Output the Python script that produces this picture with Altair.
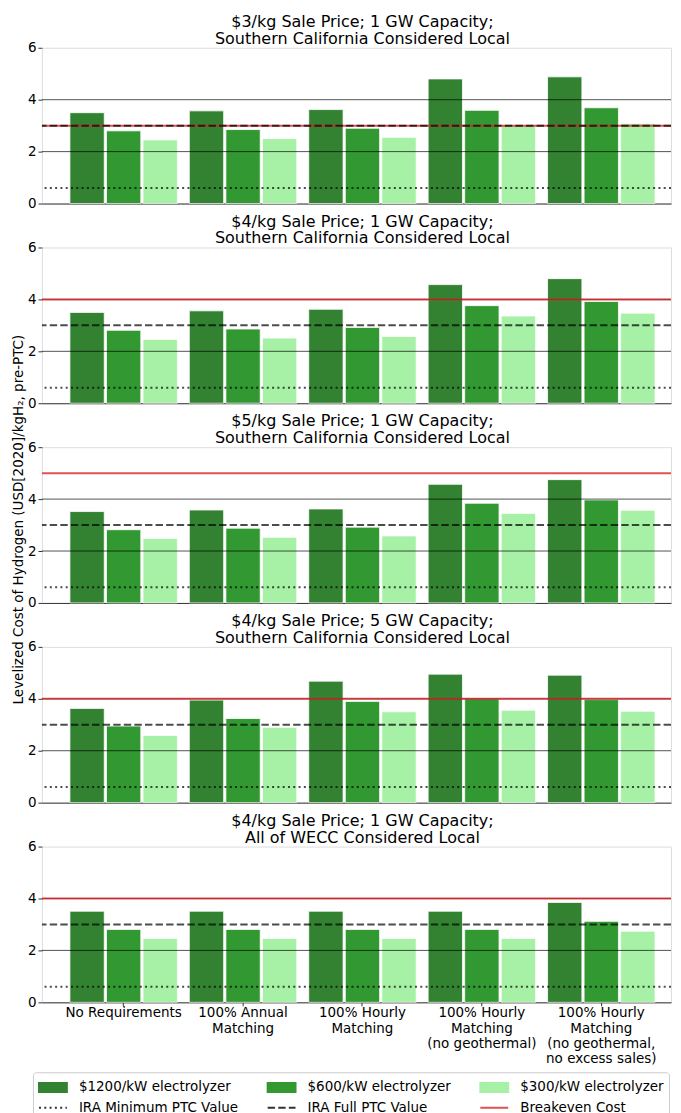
import altair as alt
import pandas as pd

# ---------------- data ----------------
categories = [
    "No Requirements",
    "100% Annual|Matching",
    "100% Hourly|Matching",
    "100% Hourly|Matching|(no geothermal)",
    "100% Hourly|Matching|(no geothermal,|no excess sales)",
]
series = ["$1200/kW electrolyzer", "$600/kW electrolyzer", "$300/kW electrolyzer"]
line_keys = ["IRA Minimum PTC Value", "IRA Full PTC Value", "Breakeven Cost"]

panel_titles = [
    ["$3/kg Sale Price; 1 GW Capacity;", "Southern California Considered Local"],
    ["$4/kg Sale Price; 1 GW Capacity;", "Southern California Considered Local"],
    ["$5/kg Sale Price; 1 GW Capacity;", "Southern California Considered Local"],
    ["$4/kg Sale Price; 5 GW Capacity;", "Southern California Considered Local"],
    ["$4/kg Sale Price; 1 GW Capacity;", "All of WECC Considered Local"],
]

cost_1200 = [
    [3.50, 3.57, 3.62, 4.80, 4.88],
    [3.50, 3.56, 3.62, 4.57, 4.80],
    [3.52, 3.58, 3.62, 4.57, 4.75],
    [3.63, 3.95, 4.68, 4.95, 4.91],
    [3.51, 3.51, 3.51, 3.51, 3.85],
]
cost_600 = [
    [2.80, 2.85, 2.90, 3.59, 3.69],
    [2.81, 2.86, 2.92, 3.76, 3.92],
    [2.82, 2.88, 2.92, 3.84, 3.97],
    [2.95, 3.24, 3.90, 4.00, 3.97],
    [2.81, 2.81, 2.81, 2.81, 3.12],
]
cost_300 = [
    [2.45, 2.50, 2.55, 3.00, 3.08],
    [2.46, 2.51, 2.57, 3.36, 3.47],
    [2.48, 2.53, 2.58, 3.45, 3.57],
    [2.59, 2.90, 3.50, 3.56, 3.52],
    [2.46, 2.46, 2.46, 2.46, 2.74],
]
breakeven = [3, 4, 5, 4, 4]
ptc_min = 0.6
ptc_full = 3.0
y_ticks = [0, 2, 4, 6]

y_title = "Levelized Cost of Hydrogen (USD[2020]/kgH\u2082, pre-PTC)"

# ---------------- styling ----------------
FONT = "DejaVu Sans"
FS = 13.5
TFS = 16
bar_colors = ["darkgreen", "green", "lightgreen"]
line_colors = ["black", "black", "#d62728"]
all_keys = series + line_keys

color_scale = alt.Scale(domain=all_keys, range=bar_colors + line_colors)

bar_list = "[" + ",".join("'" + s + "'" for s in series) + "]"
legend = alt.Legend(
    orient="none",
    legendX=-9,
    legendY=1026,
    columns=3,
    direction="horizontal",
    title=None,
    labelFontSize=FS,
    labelFont=FONT,
    labelColor="black",
    labelLimit=260,
    labelOffset=16,
    symbolSize=324,
    symbolOffset=5,
    symbolStrokeWidth=2,
    symbolType={"expr": f"indexof({bar_list}, datum.value) >= 0 ? 'M-1.55,-0.5H1.55V0.5H-1.55Z' : 'M-1.55,0H1.55'"},
    symbolDash={"expr": f"datum.value == '{line_keys[0]}' ? [2, 3.3] : datum.value == '{line_keys[1]}' ? [7.4, 3.2] : [1, 0]"},
    symbolStrokeColor={"expr": f"indexof({bar_list}, datum.value) >= 0 ? 'transparent' : scale('color', datum.value)"},
    symbolFillColor={"expr": f"indexof({bar_list}, datum.value) >= 0 ? scale('color', datum.value) : 'transparent'"},
    columnPadding=25,
    rowPadding=1.5,
    padding=5,
    strokeColor="#cccccc",
    cornerRadius=3,
    fillColor="white",
)


def make_panel(i):
    rows = []
    for vals, key in zip([cost_1200[i], cost_600[i], cost_300[i]], series):
        for cat, v in zip(categories, vals):
            rows.append({"scenario": cat, "key": key, "cost": v})
    bars_df = pd.DataFrame(rows)

    last = i == len(panel_titles) - 1
    if last:
        x_axis = alt.Axis(
            title=None, labelExpr="split(datum.label, '|')", labelAngle=0,
            tickSize=3.5, tickColor="#333", domainColor="#333", labelPadding=0,
            labelFontSize=FS, labelFont=FONT, labelColor="black",
            labelLineHeight=15.3, labelLimit=300, labelBaseline="top",
        )
    else:
        x_axis = alt.Axis(title=None, labels=False, ticks=False, domainColor="#333")

    y_axis = alt.Axis(
        values=y_ticks, tickSize=4, tickColor="#333", domain=False, grid=False,
        labelPadding=2, labelFontSize=FS, labelFont=FONT, labelColor="black",
        title=None,
    )

    bars = alt.Chart(bars_df).mark_bar(opacity=0.8, stroke="white", strokeWidth=0.8).encode(
        x=alt.X("scenario:N", sort=categories, axis=x_axis,
                scale=alt.Scale(domain=categories, paddingInner=0.1, paddingOuter=0.184, align=0.636)),
        xOffset=alt.XOffset("key:N", sort=series,
                            scale=alt.Scale(domain=series, paddingInner=0.06)),
        y=alt.Y("cost:Q", axis=y_axis, scale=alt.Scale(domain=[y_ticks[0], y_ticks[-1]], nice=False)),
        color=alt.Color("key:N", scale=color_scale, legend=legend),
    )

    grid = alt.Chart(pd.DataFrame({"tick": y_ticks})).transform_filter(
        f"datum.tick > {y_ticks[0]} && datum.tick < {y_ticks[-1]}"
    ).mark_rule(color="black", strokeWidth=0.8, opacity=0.85).encode(y="tick:Q")

    lines_df = pd.DataFrame({"key": line_keys, "value": [ptc_min, ptc_full, breakeven[i]]})
    lbase = alt.Chart(lines_df)
    red = lbase.transform_filter(f"datum.key == '{line_keys[2]}'").mark_rule(
        strokeWidth=2, opacity=0.8).encode(y="value:Q", color=alt.Color("key:N", scale=color_scale, legend=legend))
    dotted = lbase.transform_filter(f"datum.key == '{line_keys[0]}'").mark_rule(
        strokeWidth=2, opacity=0.7, strokeDash=[2, 3.3]).encode(y="value:Q", color=alt.Color("key:N", scale=color_scale, legend=legend))
    dashed = lbase.transform_filter(f"datum.key == '{line_keys[1]}'").mark_rule(
        strokeWidth=2, opacity=0.7, strokeDash=[7.4, 3.2]).encode(y="value:Q", color=alt.Color("key:N", scale=color_scale, legend=legend))

    return alt.layer(bars, grid, red, dotted, dashed).properties(
        width=630, height=156,
        title=alt.Title(text=panel_titles[i], fontSize=TFS, font=FONT, fontWeight="normal",
                        color="black", offset=-6, lineHeight=17, anchor="middle", frame="group", dx=6),
    )


chart = alt.vconcat(*[make_panel(i) for i in range(len(panel_titles))], spacing=44, bounds="flush").properties(
    padding={"left": 4, "top": 4, "right": 0, "bottom": 0},
    title=alt.Title(text=y_title, orient="left", anchor="middle", frame="bounds", offset=1, dx=47,
                    fontSize=FS, font=FONT, fontWeight="normal", color="black"),
).configure_view(stroke="#aaaaaa", strokeWidth=1).configure(font=FONT)

chart.save("out.html", embed_options={"renderer": "svg", "actions": False})
